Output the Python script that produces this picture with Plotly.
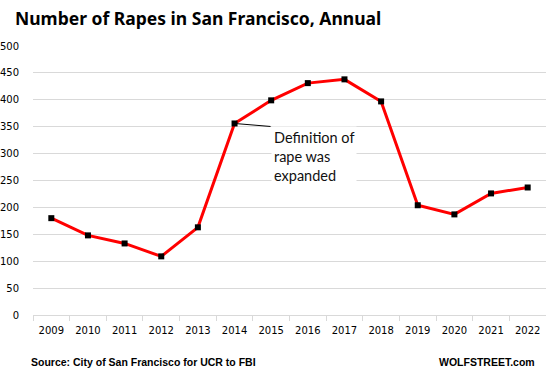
import plotly.graph_objects as go

years = ["2009", "2010", "2011", "2012", "2013", "2014", "2015",
         "2016", "2017", "2018", "2019", "2020", "2021", "2022"]
rapes = [180, 148, 133, 109, 163, 356, 399, 431, 438, 397, 204, 187, 226, 237]
y_ticks = [0, 50, 100, 150, 200, 250, 300, 350, 400, 450, 500]

title_text = "Number of Rapes in San Francisco, Annual"
source_text = "Source: City of San Francisco for UCR to FBI"
brand_text = "WOLFSTREET.com"
note_text = "Definition of<br>rape was<br>expanded"
note_year = "2014"

W, H = 546, 374
L, R, T, B = 33, 0, 46, 59
pw, ph = W - L - R, H - T - B

fig = go.Figure()
fig.add_trace(go.Scatter(
    x=years, y=rapes, mode="lines+markers",
    line=dict(color="#ff0000", width=3),
    marker=dict(symbol="square", size=6, color="#000000"),
    showlegend=False, hoverinfo="x+y",
))

ni = years.index(note_year)
fig.add_annotation(
    x=ni, y=rapes[ni], xref="x", yref="y",
    text=note_text, showarrow=True, arrowhead=0, arrowwidth=1,
    arrowcolor="#000000", ax=36, ay=3,
    xanchor="left", yanchor="top", align="left",
    bgcolor="#ffffff", borderpad=2,
    font=dict(family="Lato", size=14.5, color="#111111"),
)

fig.add_annotation(
    x=(29 - L) / pw, y=1 - (362 - T) / ph, xref="paper", yref="paper",
    text=source_text, showarrow=False, xanchor="left", yanchor="middle",
    font=dict(family="Liberation Sans", size=10.5, color="#000000", weight="bold"),
)
fig.add_annotation(
    x=(537 - L) / pw, y=1 - (362 - T) / ph, xref="paper", yref="paper",
    text=brand_text, showarrow=False, xanchor="right", yanchor="middle",
    font=dict(family="Liberation Sans", size=10.5, color="#000000", weight="bold"),
)

fig.update_layout(
    width=W, height=H,
    margin=dict(l=L, r=R, t=T, b=B, pad=0, autoexpand=False),
    paper_bgcolor="#ffffff", plot_bgcolor="#ffffff",
    title=dict(text=title_text, x=15 / W, xanchor="left", xref="container",
               y=1 - 19 / H, yanchor="middle", yref="container", pad=dict(l=0, r=0, t=0, b=0),
               font=dict(family="Noto Sans", size=17.5, color="#000000", weight="bold")),
    xaxis=dict(
        type="category", range=[-0.5, len(years) - 0.5], automargin=False,
        showgrid=False, showline=True, linecolor="#d9d9d9", linewidth=1,
        ticks="outside", tickson="boundaries", ticklen=5, tickcolor="#d9d9d9",
        tickfont=dict(family="DejaVu Sans", size=10, color="#000000"),
        ticklabelstandoff=6,
        zeroline=False, fixedrange=True,
    ),
    yaxis=dict(
        range=[0, 500], tickvals=y_ticks, showgrid=True, gridcolor="#d9d9d9",
        gridwidth=1, zeroline=False, showline=False, automargin=False,
        ticks="outside", ticklen=11, tickcolor="rgba(0,0,0,0)",
        tickfont=dict(family="DejaVu Sans", size=10, color="#000000"),
        fixedrange=True,
    ),
)

fig.write_html("out.html", config={"displayModeBar": False},
               post_script="document.body.style.margin='0px';")
